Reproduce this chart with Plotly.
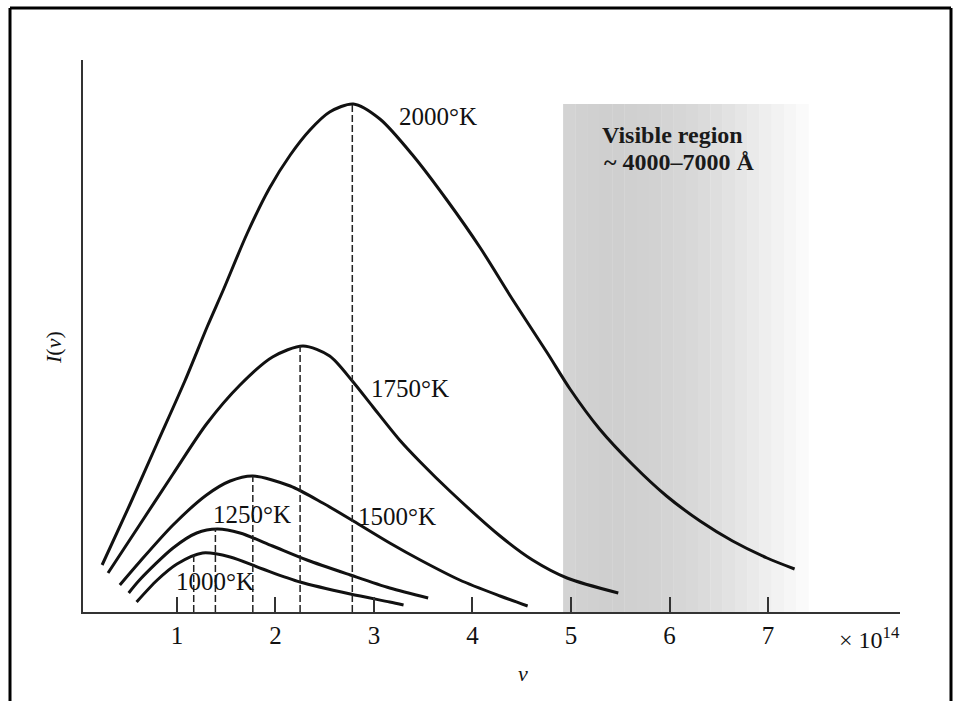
import plotly.graph_objects as go

# ---- data (v in units of 1e14 Hz, I in arbitrary units) ----
v_1000 = [0.59, 0.80, 1.00, 1.26, 1.54, 1.87, 2.25, 2.76, 3.16, 3.30]
i_1000 = [0.10, 0.32, 0.48, 0.59, 0.55, 0.43, 0.30, 0.18, 0.10, 0.07]

v_1250 = [0.51, 0.62, 0.96, 1.20, 1.41, 1.64, 1.97, 2.32, 2.76, 3.16, 3.55]
i_1250 = [0.19, 0.32, 0.64, 0.79, 0.83, 0.79, 0.66, 0.52, 0.37, 0.24, 0.14]

v_1500 = [0.42, 0.62, 0.96, 1.30, 1.54, 1.77, 2.15, 2.48, 2.79, 3.16, 3.47, 3.87, 4.28, 4.56]
i_1500 = [0.27, 0.50, 0.87, 1.17, 1.31, 1.36, 1.26, 1.09, 0.91, 0.69, 0.52, 0.32, 0.16, 0.06]

v_1750 = [0.30, 0.62, 0.96, 1.30, 1.64, 1.97, 2.28, 2.55, 2.78, 2.99, 3.26, 3.47, 3.77,
          4.28, 4.61, 4.96, 5.48]
i_1750 = [0.39, 0.87, 1.38, 1.88, 2.27, 2.55, 2.66, 2.56, 2.31, 2.05, 1.72, 1.50, 1.21,
          0.76, 0.52, 0.34, 0.19]

v_2000 = [0.24, 0.52, 0.80, 1.08, 1.31, 1.47, 1.71, 1.94, 2.15, 2.35, 2.55, 2.79, 3.06, 3.40,
          3.74, 4.08, 4.41, 4.76, 4.99, 5.29, 5.63, 5.97, 6.31, 6.64, 6.99, 7.27]
i_2000 = [0.47, 1.07, 1.69, 2.31, 2.86, 3.22, 3.78, 4.24, 4.57, 4.82, 5.00, 5.08, 4.93, 4.56,
          4.12, 3.64, 3.12, 2.59, 2.23, 1.83, 1.47, 1.16, 0.91, 0.71, 0.54, 0.43]

curves = [(v_1000, i_1000), (v_1250, i_1250), (v_1500, i_1500), (v_1750, i_1750), (v_2000, i_2000)]

# dashed lines marking each peak (position, height)
peak_v = [1.17, 1.39, 1.77, 2.25, 2.78]
peak_top = [0.58, 0.83, 1.36, 2.66, 5.08]

# curve labels (text and centre position in data units)
label_text = ["1000°K", "1250°K", "1500°K", "1750°K", "2000°K"]
label_v = [1.39, 1.76, 3.23, 3.37, 3.65]
label_i = [0.31, 0.98, 0.96, 2.24, 4.96]

# visible band
visible_lo, visible_hi, visible_top = 4.92, 7.41, 5.08
visible_strip_gray = [211, 209, 208, 207, 207, 208, 209, 210, 212, 214, 216, 219, 222, 226,
                      230, 234, 238, 242, 246, 250]

xtick_vals = [1, 2, 3, 4, 5, 6, 7]
xtick_text = ["1", "2", "3", "4", "5", "6", "7"]

FONT = "Liberation Serif"
INK = "#111111"

# plot-area pixel geometry (used only to place text in paper coordinates)
L, R, T, B = 83, 900, 60, 612
PW, PH = R - L, B - T


def px(xp):
    return (xp - L) / PW


def py(yp):
    return (B - yp) / PH


fig = go.Figure()

# shaded visible region as strips
n = len(visible_strip_gray)
w = (visible_hi - visible_lo) / n
for k, g in enumerate(visible_strip_gray):
    fig.add_shape(type="rect", xref="x", yref="y",
                  x0=visible_lo + k * w, x1=visible_lo + (k + 1) * w + 0.003,
                  y0=0, y1=visible_top, line=dict(width=0),
                  fillcolor=f"rgb({g},{g},{g})", layer="below")

for xs, ys in curves:
    fig.add_trace(go.Scatter(x=xs, y=ys, mode="lines",
                             line=dict(color=INK, width=3, shape="spline", smoothing=0.8),
                             showlegend=False, hoverinfo="skip"))

for pv, pt in zip(peak_v, peak_top):
    fig.add_trace(go.Scatter(x=[pv, pv], y=[0, pt], mode="lines",
                             line=dict(color="#222222", width=1.5, dash="7px,3px"),
                             showlegend=False, hoverinfo="skip"))

annotations = []
for t, lv, li in zip(label_text, label_v, label_i):
    annotations.append(dict(x=lv, y=li, xref="x", yref="y", text=t, showarrow=False,
                            xanchor="center", yanchor="middle",
                            font=dict(family=FONT, size=25, color=INK)))

annotations += [
    dict(x=px(600), y=py(135), xref="paper", yref="paper",
         text="<b>Visible region</b>", showarrow=False, xanchor="left", yanchor="middle",
         font=dict(family=FONT, size=24, color="#1a1a1a")),
    dict(x=px(602), y=py(162), xref="paper", yref="paper",
         text="<b>~ 4000–7000 Å</b>", showarrow=False, xanchor="left", yanchor="middle",
         font=dict(family=FONT, size=24, color="#1a1a1a")),
    dict(x=px(837), y=py(638), xref="paper", yref="paper",
         text="× 10<sup>14</sup>", showarrow=False, xanchor="left", yanchor="middle",
         font=dict(family=FONT, size=24, color=INK)),
    dict(x=px(523), y=py(673), xref="paper", yref="paper",
         text="<i>ν</i>", showarrow=False, xanchor="center", yanchor="middle",
         font=dict(family=FONT, size=22, color=INK)),
    dict(x=px(53), y=py(348), xref="paper", yref="paper",
         text="<i>I</i>(<i>ν</i>)", showarrow=False, textangle=-90,
         xanchor="center", yanchor="middle",
         font=dict(family=FONT, size=22, color=INK)),
]

fig.update_layout(
    width=959, height=701,
    margin=dict(l=L, r=959 - R, t=T, b=701 - B),
    paper_bgcolor="white", plot_bgcolor="white",
    annotations=annotations,
    xaxis=dict(range=[0.046, 8.34], showgrid=False, zeroline=False,
               showline=True, linecolor="#333333", linewidth=2,
               tickvals=xtick_vals, ticktext=xtick_text, ticks="inside", ticklen=15,
               tickwidth=2, tickcolor="#333333",
               tickfont=dict(family=FONT, size=25, color=INK)),
    yaxis=dict(range=[0, 5.52], showgrid=False, zeroline=False,
               showline=True, linecolor="#333333", linewidth=2,
               showticklabels=False, ticks=""),
)

# outer frame of the scanned figure (left, top, right borders)
fx0, fx1, fy_top, fy_bot = px(10), px(951), py(8), py(701)
for seg in [(fx0, fy_bot, fx0, fy_top), (fx0, fy_top, fx1, fy_top), (fx1, fy_top, fx1, fy_bot)]:
    fig.add_shape(type="line", xref="paper", yref="paper",
                  x0=seg[0], y0=seg[1], x1=seg[2], y1=seg[3],
                  line=dict(color="black", width=3))

fig.write_html("out.html")
